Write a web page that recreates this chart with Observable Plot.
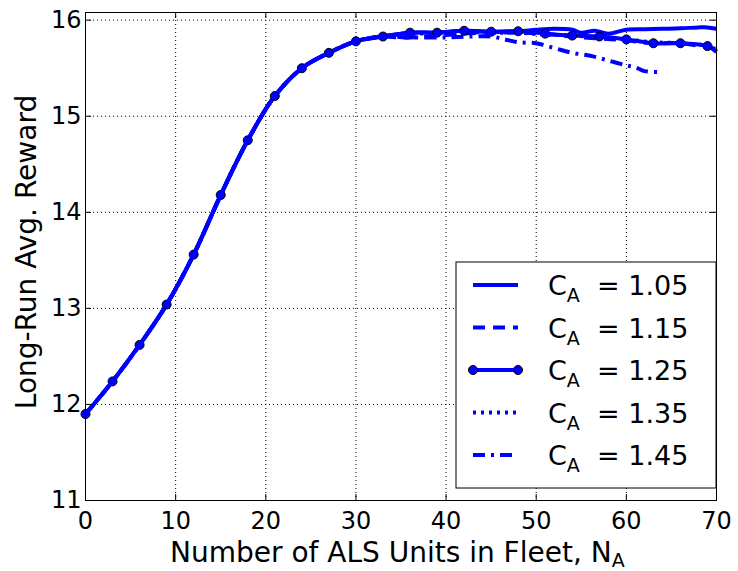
<!DOCTYPE html>
<html>
<head>
<meta charset="utf-8">
<script src="https://cdn.jsdelivr.net/npm/d3@7"></script>
<script src="https://cdn.jsdelivr.net/npm/@observablehq/plot@0.6"></script>
<style>
  html, body { margin: 0; padding: 0; background: white; }
  svg { display: block; }
</style>
</head>
<body>
<div id="chart"></div>
<script>
// ---- data ----
const xTicks = [0, 10, 20, 30, 40, 50, 60, 70];
const yTicks = [11, 12, 13, 14, 15, 16];
const seriesNames = ["1.05", "1.15", "1.25", "1.35", "1.45"];

const commonX = [0, 3, 6, 9, 12, 15, 18, 21, 24, 27, 30, 33];
const commonY = [11.90, 12.24, 12.62, 13.04, 13.56, 14.18, 14.75, 15.21, 15.50, 15.66, 15.78, 15.83];

const x105 = [...commonX, 36, 39, 42, 45, 48, 50, 52, 54, 55, 56.5, 58, 60, 62, 64, 66, 68, 69, 70];
const y105 = [...commonY, 15.87, 15.87, 15.89, 15.88, 15.885, 15.90, 15.91, 15.90, 15.87, 15.89, 15.86, 15.90, 15.905, 15.91, 15.915, 15.925, 15.925, 15.91];

const x115 = [...commonX, 35, 38, 42, 45, 48, 51, 54, 57, 60, 63, 66, 70];
const y115 = [...commonY, 15.82, 15.83, 15.86, 15.87, 15.87, 15.86, 15.83, 15.81, 15.79, 15.76, 15.76, 15.70];

const x125 = [...commonX, 36, 39, 42, 45, 48, 51, 54, 57, 60, 63, 66, 69, 70];
const y125 = [...commonY, 15.87, 15.87, 15.89, 15.88, 15.885, 15.86, 15.84, 15.83, 15.80, 15.76, 15.76, 15.73, 15.67];
const markerX = [0, 3, 6, 9, 12, 15, 18, 21, 24, 27, 30, 33, 36, 39, 42, 45, 48, 51, 54, 57, 60, 63, 66, 69];

const x135 = [...commonX, 36, 39, 42, 45, 48, 51, 54, 57, 60, 63, 66, 69, 70];
const y135 = [...commonY, 15.86, 15.86, 15.88, 15.87, 15.87, 15.85, 15.84, 15.82, 15.80, 15.77, 15.76, 15.73, 15.68];

const x145 = [...commonX, 36, 40, 43, 45, 46.5, 48, 50, 52, 54, 56, 58, 60, 61, 62, 63.7];
const y145 = [...commonY, 15.82, 15.82, 15.83, 15.83, 15.80, 15.77, 15.76, 15.71, 15.66, 15.63, 15.58, 15.53, 15.51, 15.47, 15.46];

// ---- build tables ----
const zip = (xs, ys, s) => xs.map((x, i) => ({x, y: ys[i], s}));
const d105 = zip(x105, y105, "1.05");
const d115 = zip(x115, y115, "1.15");
const d125 = zip(x125, y125, "1.25");
const d135 = zip(x135, y135, "1.35");
const d145 = zip(x145, y145, "1.45");
const markers = d125.filter(d => markerX.includes(d.x));

const BLUE = "#0000ff";
const W = 738, H = 571;
const mL = 85, mR = 22, mT = 12, mB = 71;
const pw = W - mL - mR, ph = H - mT - mB;
const FONT = "DejaVu Sans, sans-serif";

const lineOpts = {x: "x", y: "y", stroke: BLUE, strokeWidth: 4, curve: "catmull-rom", strokeLinecap: "butt"};

const chart = Plot.plot({
  width: W, height: H,
  marginLeft: mL, marginRight: mR, marginTop: mT, marginBottom: mB,
  x: {domain: [0, 70]},
  y: {domain: [11, 16.08]},
  style: {fontFamily: FONT, fontSize: "24px", background: "white", color: "black"},
  marks: [
    Plot.gridX(xTicks, {stroke: "black", strokeOpacity: 1, strokeDasharray: "1,3"}),
    Plot.gridY(yTicks, {stroke: "black", strokeOpacity: 1, strokeDasharray: "1,3"}),
    Plot.line(d105, {...lineOpts}),
    Plot.line(d115, {...lineOpts, strokeDasharray: "12,8"}),
    Plot.line(d125, {...lineOpts}),
    Plot.dot(markers, {x: "x", y: "y", r: 4.5, fill: BLUE, stroke: "black", strokeWidth: 1}),
    Plot.line(d135, {...lineOpts, strokeDasharray: "3,5"}),
    Plot.line(d145, {...lineOpts, strokeDasharray: "12,6,3,6"}),
    Plot.tickX(xTicks, {x: d => d, stroke: "black", insetTop: ph - 6}),
    Plot.tickX(xTicks, {x: d => d, stroke: "black", insetBottom: ph - 6}),
    Plot.tickY(yTicks, {y: d => d, stroke: "black", insetRight: pw - 6}),
    Plot.tickY(yTicks, {y: d => d, stroke: "black", insetLeft: pw - 6}),
    Plot.frame({stroke: "black", strokeWidth: 1}),
    Plot.axisX(xTicks, {tickSize: 0, tickPadding: 11, label: null, fontSize: 24, tickFormat: d3.format("d")}),
    Plot.axisY(yTicks, {tickSize: 0, tickPadding: 4, label: null, fontSize: 24, tickFormat: d3.format("d")})
  ]
});

document.getElementById("chart").appendChild(chart);

// ---- axis labels and legend (added with d3) ----
const svg = d3.select(chart);

const xl = svg.append("text")
  .attr("x", 170).attr("y", 562)
  .attr("text-anchor", "start")
  .style("font-family", FONT).style("font-size", "28px").attr("fill", "black");
xl.append("tspan").text("Number of ALS Units in Fleet, N");
xl.append("tspan").attr("dy", 5).style("font-size", "19px").text("A");

svg.append("text")
  .attr("transform", `translate(36,252) rotate(-90)`)
  .attr("text-anchor", "middle")
  .style("font-family", FONT).style("font-size", "28px").attr("fill", "black")
  .text("Long-Run Avg. Reward");

const leg = svg.append("g");
leg.append("rect")
  .attr("x", 456).attr("y", 262).attr("width", 260).attr("height", 226)
  .attr("fill", "white").attr("stroke", "black").attr("stroke-width", 1);

const dashes = [null, "12,8", null, "3,5", "12,6,3,6"];
seriesNames.forEach((name, i) => {
  const cy = 285 + i * 42.5;
  const l = leg.append("line")
    .attr("x1", 473).attr("x2", 518).attr("y1", cy).attr("y2", cy)
    .attr("stroke", BLUE).attr("stroke-width", 4);
  if (dashes[i]) l.attr("stroke-dasharray", dashes[i]);
  if (i === 2) {
    [473, 518].forEach(cx => leg.append("circle").attr("cx", cx).attr("cy", cy).attr("r", 4.5)
      .attr("fill", BLUE).attr("stroke", "black"));
  }
  const t = leg.append("text").attr("x", 548).attr("y", cy + 10)
    .attr("text-anchor", "start")
    .style("font-family", FONT).style("font-size", "27px").attr("fill", "black");
  t.append("tspan").text("C");
  t.append("tspan").attr("dy", 7).style("font-size", "19px").text("A");
  t.append("tspan").attr("x", 597).attr("dy", -7).text("= " + name);
});
</script>
</body>
</html>
